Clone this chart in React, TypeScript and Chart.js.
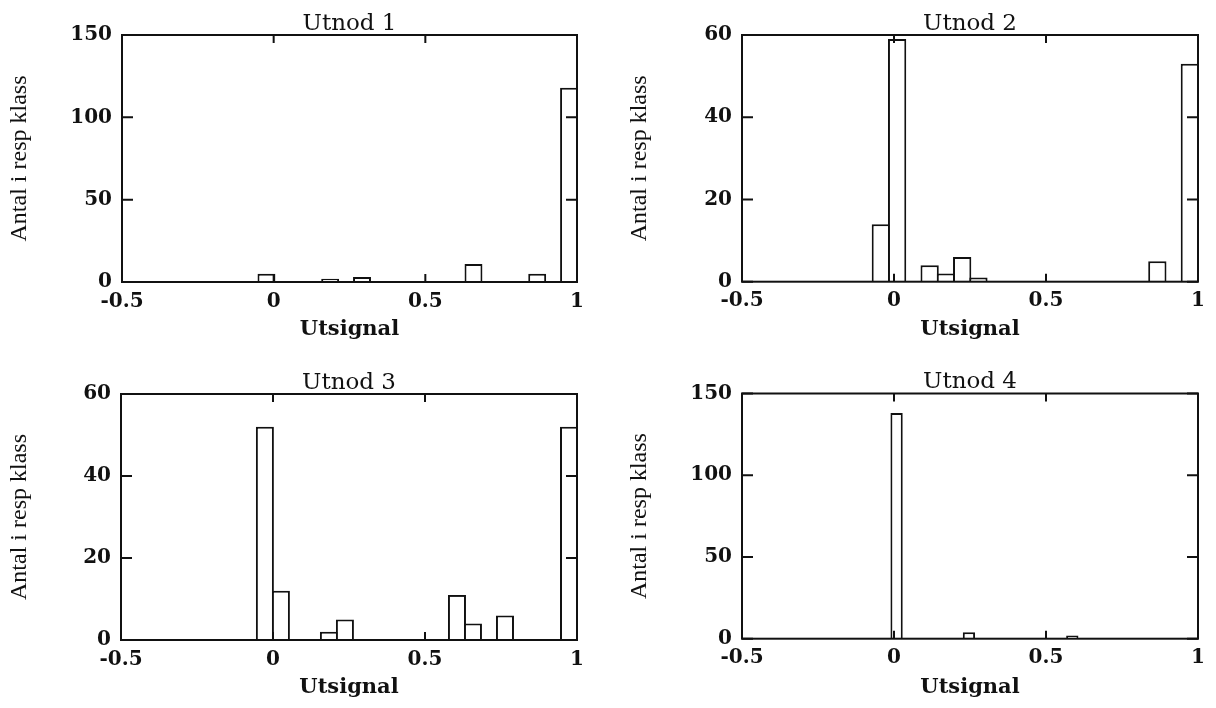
import React, { useEffect, useRef } from 'react';
import { Chart, registerables } from 'chart.js';

Chart.register(...registerables);

// ---- data ----
const panelTitles = ['Utnod 1', 'Utnod 2', 'Utnod 3', 'Utnod 4'];
const xAxisTitle = 'Utsignal';
const yAxisTitle = 'Antal i resp klass';
const xMin = -0.5;
const xMax = 1;
const xStep = 0.5;

// histogram bins: first bin start and bin width per panel
const binStarts = [-0.05, -0.07, -0.053, -0.0085];
const binWidths = [0.0525, 0.0535, 0.05265, 0.034];

const counts1 = [5, 0, 0, 0, 2, 0, 3, 0, 0, 0, 0, 0, 0, 11, 0, 0, 0, 5, 0, 118];
const counts2 = [14, 59, 0, 4, 2, 6, 1, 0, 0, 0, 0, 0, 0, 0, 0, 0, 0, 5, 0, 53];
const counts3 = [52, 12, 0, 0, 2, 5, 0, 0, 0, 0, 0, 0, 11, 4, 0, 6, 0, 0, 0, 52];
const counts4 = [138, 0, 0, 0, 0, 0, 0, 4, 0, 0, 0, 0, 0, 0, 0, 0, 0, 2, 0, 0];
const allCounts = [counts1, counts2, counts3, counts4];

const yMaxes = [150, 60, 60, 150];
const ySteps = [50, 20, 20, 50];

// ---- layout / style ----
const layouts = [
  { left: 0, top: 0, width: 600, height: 354, yAxisW: 122, padRight: 23, titlePadTop: 14.15, titlePadBottom: 0.15, axisH: 72, yTitlePad: 5, xTitlePad: 12, barPct: 1.125, xTickLen: 8, yTickLen: 11 },
  { left: 608, top: 0, width: 608, height: 354, yAxisW: 134, padRight: 18, titlePadTop: 14.15, titlePadBottom: 0.15, axisH: 72.3, yTitlePad: 17.5, xTitlePad: 12, barPct: 1.125, xTickLen: 8, yTickLen: 11 },
  { left: 0, top: 350, width: 600, height: 358, yAxisW: 121, padRight: 23, titlePadTop: 22.65, titlePadBottom: 0.65, axisH: 68, yTitlePad: 5, xTitlePad: 8, barPct: 1.125, xTickLen: 8, yTickLen: 11 },
  { left: 608, top: 350, width: 608, height: 358, yAxisW: 134, padRight: 18, titlePadTop: 21.65, titlePadBottom: 1.15, axisH: 69.3, yTitlePad: 17.5, xTitlePad: 8, barPct: 1.19, xTickLen: 8, yTickLen: 11 },
];

const INK = '#111111';
const TICK_FONT = { family: '"DejaVu Serif", serif', size: 20, weight: 'bold' as const };
const TITLE_FONT = { family: '"DejaVu Serif", serif', size: 23, weight: 'normal' as const, lineHeight: 0.9 };
const XLABEL_FONT = { family: '"DejaVu Serif", serif', size: 21, weight: 'bold' as const };
const YLABEL_FONT = { family: '"Liberation Serif", "Times New Roman", serif', size: 24, weight: 'normal' as const };

const framePlugin = {
  id: 'frameTicks',
  afterDatasetsDraw(chart: any, _args: any, opts: any) {
    const { ctx, chartArea } = chart;
    const { left, right, top, bottom } = chartArea;
    const xs = chart.scales.x;
    const ys = chart.scales.y;
    ctx.save();
    ctx.strokeStyle = INK;
    ctx.lineWidth = 2;
    ctx.beginPath();
    xs.ticks.forEach((t: any) => {
      const px = xs.getPixelForValue(t.value);
      ctx.moveTo(px, bottom);
      ctx.lineTo(px, bottom - opts.xTickLen);
      ctx.moveTo(px, top);
      ctx.lineTo(px, top + opts.xTickLen);
    });
    ys.ticks.forEach((t: any) => {
      const py = ys.getPixelForValue(t.value);
      ctx.moveTo(left, py);
      ctx.lineTo(left + opts.yTickLen, py);
      ctx.moveTo(right, py);
      ctx.lineTo(right - opts.yTickLen, py);
    });
    ctx.stroke();
    ctx.lineJoin = 'miter';
    ctx.strokeRect(left, top, right - left, bottom - top);
    ctx.restore();
  },
};

function Panel({ idx }: { idx: number }) {
  const ref = useRef<HTMLCanvasElement | null>(null);
  const L = layouts[idx];
  useEffect(() => {
    if (!ref.current) return;
    const counts = allCounts[idx];
    const points = counts.map((c, i) => ({ x: binStarts[idx] + binWidths[idx] * (i + 0.5), y: c }));
    const chart = new Chart(ref.current, {
      type: 'bar',
      data: {
        datasets: [
          {
            data: points,
            backgroundColor: '#ffffff',
            borderColor: INK,
            borderWidth: 2,
            barPercentage: L.barPct,
            categoryPercentage: 1,
          } as any,
        ],
      },
      options: {
        responsive: false,
        animation: false,
        events: [],
        layout: { padding: { left: 0, right: L.padRight, top: 0, bottom: 0 } },
        plugins: {
          legend: { display: false },
          tooltip: { enabled: false },
          title: {
            display: true,
            text: panelTitles[idx],
            position: 'top',
            fullSize: false,
            align: 'center',
            color: INK,
            font: TITLE_FONT,
            padding: { top: L.titlePadTop, bottom: L.titlePadBottom },
          },
          frameTicks: { xTickLen: L.xTickLen, yTickLen: L.yTickLen },
        } as any,
        scales: {
          x: {
            type: 'linear',
            min: xMin,
            max: xMax,
            offset: false,
            grid: { display: false, drawTicks: false, offset: false },
            border: { display: false },
            ticks: {
              stepSize: xStep,
              color: INK,
              font: TICK_FONT,
              padding: 7.5,
              maxRotation: 0,
              autoSkip: false,
              callback: (v: any) => String(v),
            },
            title: {
              display: true,
              text: xAxisTitle,
              color: INK,
              font: XLABEL_FONT,
              padding: { top: 0, bottom: L.xTitlePad },
            },
            afterFit: (s: any) => {
              s.height = L.axisH;
              s.paddingLeft = 0;
              s.paddingRight = 0;
            },
          } as any,
          y: {
            type: 'linear',
            min: 0,
            max: yMaxes[idx],
            grid: { display: false, drawTicks: false },
            border: { display: false },
            ticks: {
              stepSize: ySteps[idx],
              color: INK,
              font: TICK_FONT,
              padding: 10,
              callback: (v: any) => String(v),
            },
            title: {
              display: true,
              text: yAxisTitle,
              color: INK,
              font: YLABEL_FONT,
              padding: { top: L.yTitlePad, bottom: 0 },
            },
            afterFit: (s: any) => {
              s.width = L.yAxisW;
              s.paddingTop = 0;
              s.paddingBottom = 0;
            },
          } as any,
        },
      },
      plugins: [framePlugin],
    });
    return () => chart.destroy();
  }, [idx]);
  return (
    <canvas
      ref={ref}
      width={L.width}
      height={L.height}
      style={{ position: 'absolute', left: L.left, top: L.top, width: L.width, height: L.height }}
    />
  );
}

export default function App() {
  return (
    <div style={{ position: 'absolute', left: 0, top: 0, width: 1216, height: 708, background: '#ffffff', overflow: 'hidden' }}>
      {[0, 1, 2, 3].map((i) => (
        <Panel key={i} idx={i} />
      ))}
    </div>
  );
}
